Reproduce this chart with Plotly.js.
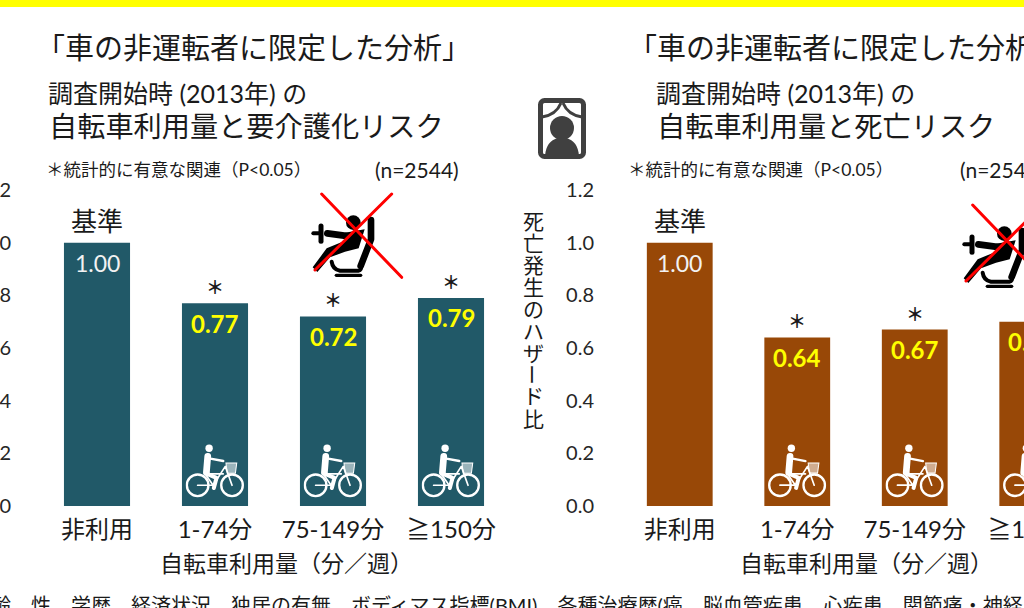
<!DOCTYPE html>
<html>
    <head>
        <meta charset="utf-8">
        <script src="https://cdn.plot.ly/plotly-3.0.1.min.js"></script>
        <style>
            html, body { margin: 0; width: 1024px; height: 608px; overflow: hidden; background: #fff; }
            #plot { position: absolute; left: -60px; top: -20px; }
        </style>
    </head>
    <body>
        <div id="plot"></div>
        <script type="text/javascript">
            // the picture is a crop of a slide, so the page is drawn bigger and cut off by the window
            const W = 1400, H = 660, OX = 60, OY = 20;
            const FONT = 'Lato, "Noto Sans CJK JP", sans-serif';

            const categories = ['非利用', '1-74分', '75-149分', '≧150分'];
            const careRisk = [1.00, 0.77, 0.72, 0.79];
            const deathRisk = [1.00, 0.64, 0.67, 0.70];
            const marks = ['基準', '<b>＊</b>', '<b>＊</b>', '<b>＊</b>'];
            const yTicks = [0, 0.2, 0.4, 0.6, 0.8, 1.0, 1.2];
            const xTitle = '自転車利用量（分／週）';
            const yTitleChars = ['死', '亡', '発', '生', 'の', 'ハ', 'ザ', 'ー', 'ド', '比'];

            const px = x => (x + OX) / W;
            const py = y => 1 - (y + OY) / H;

            const bike = 'data:image/svg+xml,' + encodeURIComponent(
                '<svg xmlns="http://www.w3.org/2000/svg" viewBox="0 0 175 160">' +
                '<g fill="none" stroke="#fff" stroke-width="7" stroke-linecap="round" stroke-linejoin="round">' +
                '<circle cx="36" cy="122" r="32"/><circle cx="138" cy="122" r="32"/>' +
                '<path d="M36 122H82L118 66L138 122M58 88L82 122M58 88H112" stroke-width="5"/>' +
                '<path d="M66 36L62 84" stroke-width="20"/>' +
                '<path d="M64 88L92 100L84 130" stroke-width="12"/>' +
                '<path d="M70 42L112 50" stroke-width="7"/></g>' +
                '<circle cx="70" cy="12" r="11" fill="#fff"/>' +
                '<path d="M120 56H152L148 86H124Z" fill="#fff" fill-opacity=".55" stroke="#fff" stroke-width="3"/></svg>');

            const seat = 'data:image/svg+xml,' + encodeURIComponent(
                '<svg xmlns="http://www.w3.org/2000/svg" viewBox="0 0 390 330">' +
                '<g fill="none" stroke="#000" stroke-linecap="round" stroke-linejoin="round">' +
                '<path d="M93 138V184" stroke-width="15"/><path d="M70 160H92" stroke-width="12"/>' +
                '<path d="M112 160L185 170" stroke-width="20"/>' +
                '<path d="M243 120V178L212 258" stroke-width="20"/>' +
                '<path d="M125 245Q128 268 150 272H205Q216 270 212 258" stroke-width="12"/>' +
                '<path d="M139 286H212" stroke-width="10"/></g>' +
                '<circle cx="190" cy="128" r="22"/>' +
                '<path d="M165 158L224 148L206 205L165 215L120 232L82 276L68 262L110 205L165 182Z"/>' +
                '<g stroke="#f00" stroke-width="9" stroke-linecap="round">' +
                '<path d="M95 42L335 292M305 42L75 270"/></g></svg>');

            const frame = 'data:image/svg+xml,' + encodeURIComponent(
                '<svg xmlns="http://www.w3.org/2000/svg" viewBox="0 0 48 61">' +
                '<rect x="2.5" y="2.5" width="43" height="56" rx="4" fill="#fff" stroke="#404040" stroke-width="5"/>' +
                '<path d="M4 19Q18 17 23 5M44 19Q30 17 25 5" fill="none" stroke="#404040" stroke-width="3"/>' +
                '<circle cx="24" cy="30" r="12" fill="#404040"/>' +
                '<path d="M7 58Q8 43 20 40H28Q40 43 41 58Z" fill="#404040"/></svg>');

            function note(text, x, y, size, extra) {
                return Object.assign({
                    text: text, xref: 'paper', yref: 'paper', x: px(x), y: py(y),
                    xanchor: 'left', yanchor: 'middle', showarrow: false,
                    font: {family: FONT, size: size, color: '#1a1a1a'}
                }, extra || {});
            }

            function barLabels(values, xa, ya) {
                const out = [];
                values.forEach(function(v, i) {
                    out.push({
                        text: i == 0 ? v.toFixed(2) : '<b>' + v.toFixed(2) + '</b>',
                        xref: xa, yref: ya, x: i, y: v, yshift: -20, showarrow: false,
                        yanchor: 'middle',
                        font: {family: FONT, size: i == 0 ? 23 : 24, color: i == 0 ? '#f2f2f2' : '#ffff00'}
                    });
                    out.push({
                        text: marks[i], xref: xa, yref: ya, x: i, y: v, yshift: i == 0 ? 22 : 16, showarrow: false,
                        yanchor: 'middle',
                        font: {family: FONT, size: i == 0 ? 26 : 18, color: '#1a1a1a'}
                    });
                });
                return out;
            }

            function bikes(xa, ya) {
                return categories.slice(1).map(function(c, i) {
                    return {source: bike, xref: xa, yref: ya, x: i + 1, y: 0.03, sizex: 0.5, sizey: 0.205,
                            xanchor: 'center', yanchor: 'bottom', sizing: 'contain', layer: 'above'};
                });
            }

            function bars(values, color, xa, ya) {
                return {type: 'bar', x: categories, y: values, xaxis: xa, yaxis: ya,
                        marker: {color: color, line: {width: 0}}, hoverinfo: 'skip'};
            }

            function xAxis(left, right) {
                return {
                    domain: [px(left), px(right)], type: 'category', categoryorder: 'array', categoryarray: categories,
                    range: [-0.5, 3.5], showgrid: false, zeroline: false, showline: false, ticks: '',
                    ticklabelstandoff: 7, tickangle: 0, tickfont: {family: FONT, size: 24, color: '#1a1a1a'}
                };
            }

            function yAxis(anchor) {
                return {
                    domain: [py(506), py(190)], range: [0, 1.2], anchor: anchor, tickvals: yTicks,
                    tickformat: '.1f', showgrid: false, zeroline: false, showline: false, ticks: '',
                    ticklabelstandoff: 26, tickfont: {family: FONT, size: 20, color: '#262626'}
                };
            }

            // plotly's line height is too loose for the vertical title, so one note per character
            const yTitleNotes = yTitleChars.map(function(c, i) {
                return note(c, 533, 220 + 22 * i, 21, {xanchor: 'center', textangle: c == 'ー' ? 90 : 0});
            });

            const annotations = [
                note('「車の非運転者に限定した分析」', 34, 47, 29),
                note('調査開始時 (2013年) の', 46, 93, 25),
                note('自転車利用量と要介護化リスク', 47, 126, 28.2),
                note('＊統計的に有意な関連（P&lt;0.05）', 44, 170, 17.5),
                note('(n=2544)', 373, 169, 21),
                note('「車の非運転者に限定した分析」', 626, 47, 29),
                note('調査開始時 (2013年) の', 654, 93, 25),
                note('自転車利用量と死亡リスク', 655, 126, 28.2),
                note('＊統計的に有意な関連（P&lt;0.05）', 626, 170, 17.5),
                note('(n=2544)', 958, 169, 21),
                note(xTitle, 158, 563, 23),
                note(xTitle, 738, 563, 23),
                note('齢、性、学歴、経済状況、独居の有無、ボディマス指標(BMI)、各種治療歴(癌、脳血管疾患、心疾患、関節痛・神経', -11, 605, 20)
            ].concat(yTitleNotes, barLabels(careRisk, 'x', 'y'), barLabels(deathRisk, 'x2', 'y2'));

            const images = bikes('x', 'y').concat(bikes('x2', 'y2'), [
                {source: seat, xref: 'paper', yref: 'paper', x: px(290), y: py(180), sizex: 130 / W, sizey: 110 / H,
                 xanchor: 'left', yanchor: 'top', sizing: 'stretch'},
                {source: seat, xref: 'paper', yref: 'paper', x: px(941), y: py(191), sizex: 130 / W, sizey: 110 / H,
                 xanchor: 'left', yanchor: 'top', sizing: 'stretch'},
                {source: frame, xref: 'paper', yref: 'paper', x: px(538), y: py(98), sizex: 48 / W, sizey: 61 / H,
                 xanchor: 'left', yanchor: 'top', sizing: 'stretch'}
            ]);

            const layout = {
                width: W, height: H, margin: {l: 0, r: 0, t: 0, b: 0}, autosize: false,
                showlegend: false, bargap: 0.44, paper_bgcolor: '#fff', plot_bgcolor: '#fff',
                xaxis: Object.assign(xAxis(38, 510), {anchor: 'y'}),
                yaxis: yAxis('x'),
                xaxis2: Object.assign(xAxis(621, 1091), {anchor: 'y2'}),
                yaxis2: yAxis('x2'),
                annotations: annotations,
                images: images,
                shapes: [{type: 'rect', xref: 'paper', yref: 'paper', x0: 0, x1: 1, y0: py(7), y1: 1,
                          fillcolor: '#ffff00', line: {width: 0}}]
            };

            Plotly.newPlot('plot', [bars(careRisk, '#215968', 'x', 'y'), bars(deathRisk, '#984807', 'x2', 'y2')], layout, {displayModeBar: false});
        </script>
    </body>
</html>
